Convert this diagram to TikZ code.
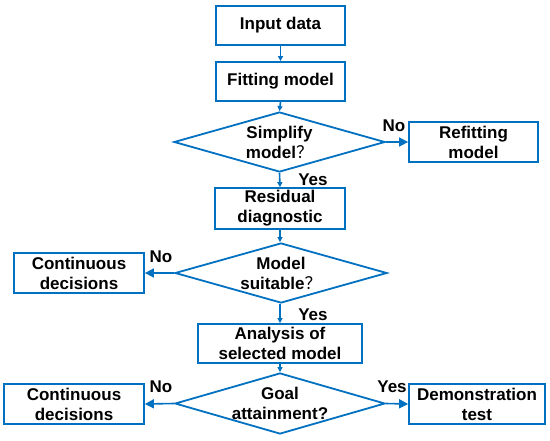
\documentclass[tikz,border=0pt]{standalone}
\usepackage{fontspec}
\setmainfont{Liberation Sans}
\newfontfamily\cjk{Noto Sans CJK SC}
\usetikzlibrary{shapes.geometric,arrows.meta}
\definecolor{fblue}{RGB}{0,112,192}
\begin{document}
\begin{tikzpicture}[x=1pt,y=-1pt,
  txt/.style={font=\fontsize{17}{20}\selectfont\bfseries, text=black, align=center},
  box/.style={txt, draw=fblue, line width=1.8pt, inner sep=0pt, fill=white},
  dia/.style={diamond, draw=fblue, line width=1.8pt, inner sep=0pt, fill=white},
  vflow/.style={fblue, line width=1.6pt, -{Triangle[length=5pt,width=5pt]}},
  hflow/.style={fblue, line width=1.6pt, -{Triangle[length=9pt,width=9pt]}},
  lab/.style={txt, inner sep=0pt}
]
\useasboundingbox (0,0) rectangle (550,440);
\fill[white] (0,0) rectangle (550,440);

\node[box, minimum width=129pt, minimum height=39pt] (in) at (280.5,25.5) {Input data};
\node[box, minimum width=129pt, minimum height=39pt] (fit) at (280.5,81.5) {Fitting model};
\node[dia, minimum width=211pt, minimum height=60pt,
  label={[txt, inner sep=0pt]center:Simplify\\model{\cjk\mdseries ？}}] (simp) at (279.5,142) {};
\node[box, minimum width=129pt, minimum height=40pt] (refit) at (473.5,142) {Refitting\\model};
\node[box, minimum width=130pt, minimum height=41pt] (res) at (280,208.5) {Residual\\diagnostic};
\node[dia, minimum width=212pt, minimum height=60pt,
  label={[txt, inner sep=0pt]center:Model\\suitable{\cjk\mdseries ？}}] (suit) at (281,273) {};
\node[box, minimum width=130pt, minimum height=40pt] (cont1) at (79,273) {Continuous\\decisions};
\node[box, minimum width=164pt, minimum height=39pt] (ana) at (280,343.5) {Analysis of\\selected model};
\node[dia, minimum width=210pt, minimum height=61pt,
  label={[txt, inner sep=0pt]center:Goal\\attainment?}] (goal) at (280,403.5) {};
\node[box, minimum width=140pt, minimum height=40pt] (cont2) at (74,404) {Continuous\\decisions};
\node[box, minimum width=136pt, minimum height=40pt] (demo) at (477,404) {Demonstration\\test};

\draw[vflow] (in.south) -- (fit.north);
\draw[vflow] (fit.south) -- (simp.north);
\draw[vflow] (simp.south) -- (res.north);
\draw[hflow] (simp.east) -- (refit.west);
\draw[vflow] (res.south) -- (suit.north -| res.south);
\draw[hflow] (suit.west) -- (cont1.east);
\draw[vflow] (suit.south -| ana.north) -- (ana.north);
\draw[vflow] (ana.south) -- (goal.north);
\draw[hflow] (goal.west) -- (cont2.east);
\draw[hflow] (goal.east) -- (demo.west);

\node[lab] (no1) at (394,126) {No};
\node[lab] (yes1) at (313,180) {Yes};
\node[lab] (no2) at (161,257) {No};
\node[lab] (yes2) at (313,315) {Yes};
\node[lab] (no3) at (161,387) {No};
\node[lab] (yes3) at (392,387) {Yes};
\end{tikzpicture}
\end{document}
